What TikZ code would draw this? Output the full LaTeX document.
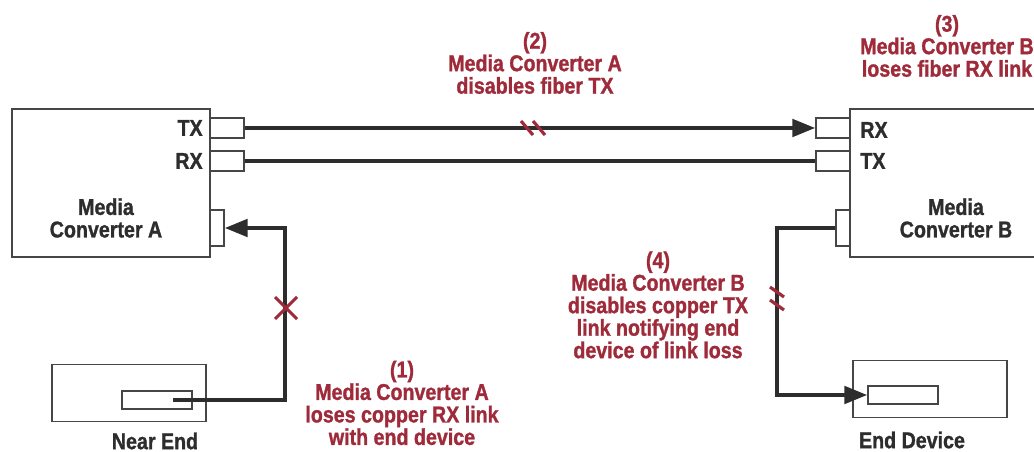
\documentclass[tikz,border=0pt]{standalone}
\usepackage{fontspec}
\newfontfamily\labelfont[FakeStretch=0.86, BoldFeatures={FakeBold=1.2}]{Liberation Sans}
\usetikzlibrary{arrows.meta,calc}

\definecolor{ink}{RGB}{45,45,45}
\definecolor{frame}{RGB}{70,70,70}
\definecolor{notered}{RGB}{158,42,58}
\newcommand{\tagfont}{\labelfont\bfseries\fontsize{13}{12.8}\selectfont}

\begin{document}
\begin{tikzpicture}[
  x=0.02cm, y=-0.02cm,
  unitbox/.style   = {draw=frame, line width=1.1pt, inner sep=0pt,
                      minimum width=3.96cm, minimum height=2.96cm},
  devbox/.style    = {draw=frame, line width=1pt, inner sep=0pt,
                      minimum width=3.08cm, minimum height=1.14cm},
  fibport/.style   = {draw=frame, line width=1pt, inner sep=0pt,
                      minimum width=0.68cm, minimum height=0.4cm},
  cuport/.style    = {draw=frame, line width=1pt, inner sep=0pt,
                      minimum width=0.28cm, minimum height=0.72cm},
  plugbox/.style   = {draw=frame, line width=1pt, inner sep=0pt,
                      minimum width=1.4cm, minimum height=0.37cm},
  wire/.style      = {draw=ink, line width=2pt},
  feed/.style      = {wire, -{Triangle[length=13pt,width=10pt]}},
  ttl/.style       = {font=\tagfont, text=ink, align=center, inner sep=0pt},
  note/.style      = {font=\tagfont, text=notered, align=center, inner sep=0pt},
  breakmark/.style = {draw=notered, line width=1.8pt},
]
  \useasboundingbox (0,0) rectangle (1034,452);
  \clip (0,0) rectangle (1034,452);

  % converters and their ports
  \node[unitbox] (mcA) at (111,183) {};
  \node[unitbox] (mcB) at (949,183) {};
  \node[fibport] (txA) at (227,128) {};
  \node[fibport] (rxA) at (227,161) {};
  \node[fibport] (rxB) at (833,128) {};
  \node[fibport] (txB) at (833,161) {};
  \node[cuport] (cuA) at (217,228) {};
  \node[cuport] (cuB) at (843,228) {};

  \node[ttl, anchor=east] at (203,128) {TX};
  \node[ttl, anchor=east] at (203,161) {RX};
  \node[ttl, anchor=west] at (860,130) {RX};
  \node[ttl, anchor=west] at (860,161) {TX};
  \node[ttl] at (106,218) {Media\\Converter A};
  \node[ttl] at (956,218) {Media\\Converter B};

  % end devices
  \node[devbox] (nearend) at (129,393) {};
  \node[plugbox] (nearplug) at (157,400) {};
  \node[devbox] (enddev) at (930,389) {};
  \node[plugbox] (endplug) at (903,395) {};
  \node[ttl] at (155,441) {Near End};
  \node[ttl] at (912,440) {End Device};

  % fiber pair
  \draw[feed] (txA.east) -- (rxB.west);
  \draw[wire] (rxA.east) -- (txB.west);

  % copper links
  \coordinate (nearjack) at (173,400);
  \coordinate (bendA) at (285,228);
  \coordinate (bendB) at (777,228);
  \draw[feed] (nearjack) -| (bendA) -- (cuA.east);
  \draw[feed] (cuB.west) -- (bendB) |- (endplug.west);

  % faults
  \coordinate (cutfiber) at (533,128);
  \coordinate (cutcopper) at (777,298);
  \coordinate (lossA) at (286,308);
  \foreach \dx in {-6,6}
    \draw[breakmark] ($(cutfiber)+(\dx-6,-7)$) -- ++(12,14);
  \foreach \dy in {-6,7}
    \draw[breakmark] ($(cutcopper)+(-7,\dy-5)$) -- ++(14,10);
  \draw[breakmark] ($(lossA)+(-11,-11)$) -- ++(22,22)
                   ($(lossA)+(11,-11)$) -- ++(-22,22);

  % notes
  \node[note] at (402,403) {(1)\\Media Converter A\\loses copper RX link\\with end device};
  \node[note] at (535,63) {(2)\\Media Converter A\\disables fiber TX};
  \node[note] at (947,46) {(3)\\Media Converter B\\loses fiber RX link};
  \node[note] at (658,305) {(4)\\Media Converter B\\disables copper TX\\link notifying end\\device of link loss};
\end{tikzpicture}
\end{document}
